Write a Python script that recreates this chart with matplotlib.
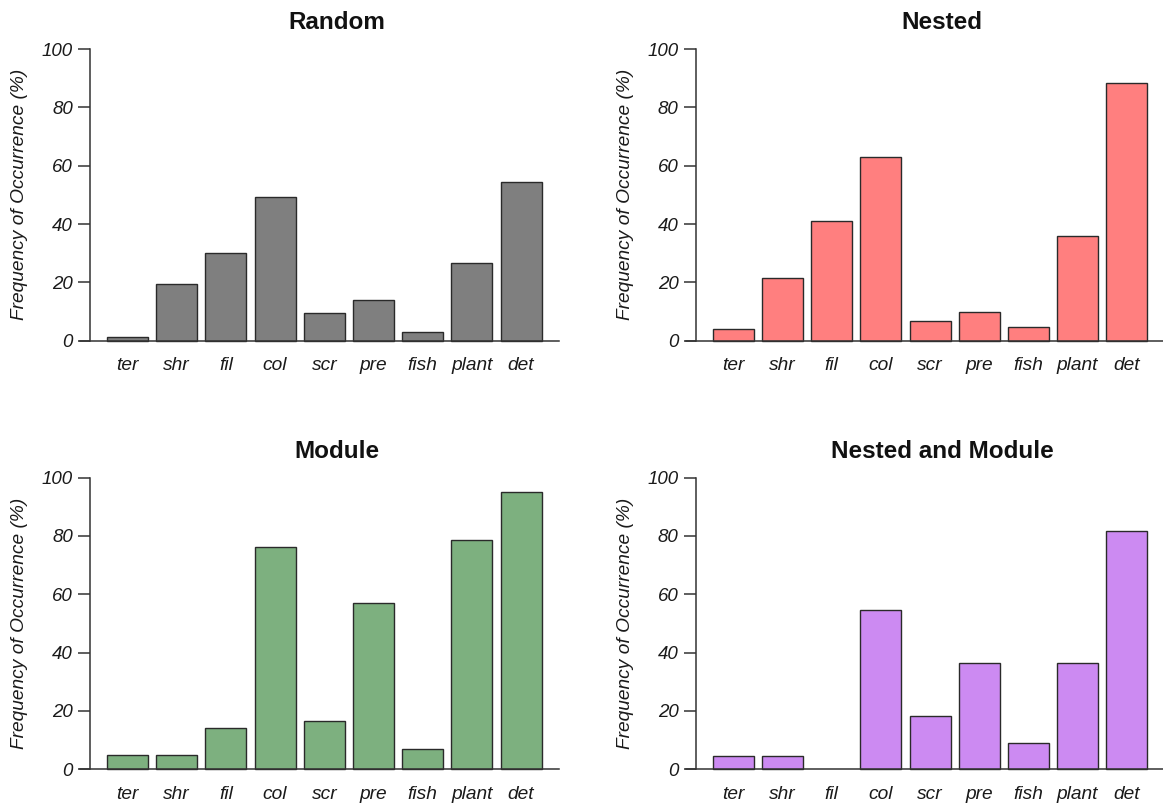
import matplotlib
matplotlib.use("Agg")
import matplotlib.pyplot as plt

plt.rcParams['font.family'] = ['Liberation Sans', 'DejaVu Sans']

categories = ["ter", "shr", "fil", "col", "scr", "pre", "fish", "plant", "det"]
titles = ["Random", "Nested", "Module", "Nested and Module"]
random_vals = [1.3, 19.6, 30.1, 49.2, 9.6, 14.1, 3.1, 26.5, 54.4]
nested_vals = [3.9, 21.4, 41.0, 62.9, 6.6, 10.0, 4.6, 35.9, 88.2]
module_vals = [4.8, 4.8, 14.3, 76.2, 16.6, 57.1, 7.1, 78.6, 95.2]
nested_module_vals = [4.5, 4.5, 0.0, 54.5, 18.2, 36.4, 9.1, 36.4, 81.8]
yticks = [0, 20, 40, 60, 80, 100]
ylabel = "Frequency of Occurrence (%)"
colors = ["#7f7f7f", "#ff7f7f", "#7db07f", "#cc8af2"]
series = [random_vals, nested_vals, module_vals, nested_module_vals]

W, H = 1163, 805
fig = plt.figure(figsize=(W / 100, H / 100), dpi=100)

# panel geometry in pixels
dx = 605.7
dy = 428.6
base_left, base_right = 80, 559
base_y0, base_ytop = 340.7, 49.0
unit_px = 41.0
x0_px = 98.8  # pixel where bar coordinate 0 lies (top-left panel)

edge = "#2a2a2a"
txt = "#1a1a1a"

for k in range(4):
    row, col = divmod(k, 2)
    ox = dx * col
    oy = dy * row
    left = base_left + ox
    right = min(base_right + ox, W)
    y0 = base_y0 + oy
    ytop = base_ytop + oy
    ax = fig.add_axes([left / W, (H - y0) / H, (right - left) / W, (y0 - ytop) / H])
    xmin = (left - (x0_px + ox)) / unit_px
    xmax = (right - (x0_px + ox)) / unit_px
    ax.set_xlim(xmin, xmax)
    ax.set_ylim(0, 100)
    centers = [0.7 + 1.2 * i for i in range(len(categories))]
    vals = series[k]
    shown = [i for i, v in enumerate(vals) if v > 0]
    ax.bar([centers[i] for i in shown], [vals[i] for i in shown], width=1.0,
           color=colors[k], edgecolor=edge, linewidth=1.0, clip_on=False, zorder=2)
    for s in ["top", "right"]:
        ax.spines[s].set_visible(False)
    ax.spines["left"].set_position(("data", (90 - x0_px) / unit_px))
    ax.spines["left"].set_bounds(0, 100)
    ax.spines["left"].set_color("#333333")
    ax.spines["left"].set_linewidth(1.1)
    ax.spines["bottom"].set_color("#333333")
    ax.spines["bottom"].set_linewidth(1.1)
    ax.set_yticks(yticks)
    ax.set_yticklabels([str(v) for v in yticks], fontstyle="italic", fontsize=13.5, color=txt)
    ax.tick_params(axis="y", direction="out", length=8.4, width=1.1, color="#333333", pad=4.0)
    ax.set_xticks(centers)
    ax.set_xticklabels(categories, fontstyle="italic", fontsize=13.8, color=txt)
    ax.tick_params(axis="x", length=0, pad=12)
    ax.patch.set_visible(False)

    fig.text((336.5 + ox) / W, 1 - (29.3 + oy) / H, titles[k], ha="center", va="baseline",
             fontsize=17.5, fontweight="bold", color="#111111")
    fig.text((20 + ox) / W, 1 - ((y0 + ytop) / 2) / H, ylabel, rotation=90,
             ha="center", va="center", fontsize=13.8, fontstyle="italic", color=txt)

fig.savefig("out.png", dpi=100)
